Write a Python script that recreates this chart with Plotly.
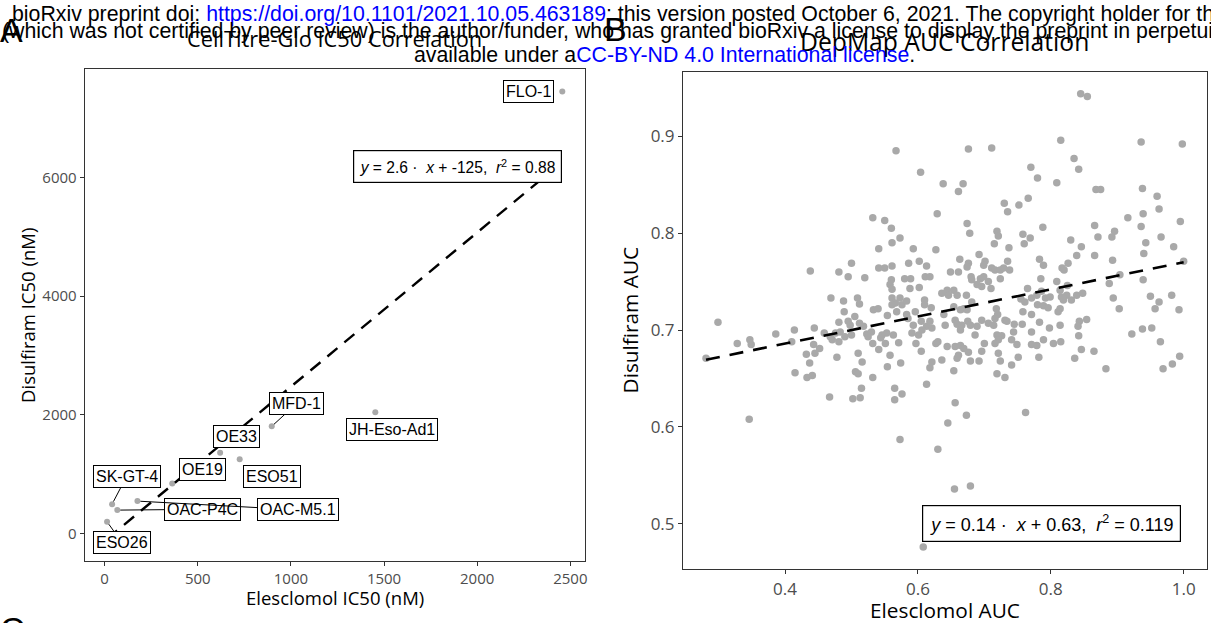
import plotly.graph_objects as go

W, H = 1211, 623

# ---------------- Panel A: CellTitre-Glo IC50 (nM) ----------------
cell_lines = ["FLO-1", "JH-Eso-Ad1", "MFD-1", "OE33", "ESO51", "OE19",
              "SK-GT-4", "OAC-P4C", "OAC-M5.1", "ESO26"]
elesclomol_ic50 = [2457, 1453, 897, 620, 725, 363, 40, 68, 176, 13]
disulfiram_ic50 = [7451, 2042, 1806, 1360, 1249, 844, 494, 393, 545, 196]
ic50_fit = {"slope": 2.6, "intercept": -125, "r2": 0.88}

# label placement in data units, and whether a leader segment is drawn
label_place = {
    "FLO-1": (2276, 7448, False),
    "JH-Eso-Ad1": (1545, 1757, False),
    "MFD-1": (1032, 2194, True),
    "OE33": (708, 1637, False),
    "ESO51": (896, 964, False),
    "OE19": (527, 1082, False),
    "SK-GT-4": (118, 962, True),
    "OAC-P4C": (527, 407, True),
    "OAC-M5.1": (1039, 398, True),
    "ESO26": (92, -147, True),
}

# ---------------- Panel B: DepMap AUC ----------------
elesclomol_auc = [
    0.567, 0.604, 0.638, 0.629, 0.532, 0.550, 0.560, 0.573, 0.561, 0.541, 0.593, 0.627,
    0.845, 0.855, 0.815, 0.936, 0.998, 0.676, 0.711, 0.835, 0.842, 0.770, 0.780, 0.809,
    0.668, 0.661, 0.868, 0.875, 0.938, 0.960, 0.963, 0.939, 0.995, 0.916, 0.730, 0.735,
    0.752, 0.766, 0.674, 0.678, 0.719, 0.721, 0.758, 0.769, 0.788, 0.866, 0.871, 0.896,
    0.892, 0.936, 0.966, 0.943, 0.985, 0.715, 0.760, 0.737, 0.830, 0.846,
    0.438, 0.481, 0.500, 0.495, 0.520, 0.541, 0.550, 0.561, 0.560, 0.558,
    0.561, 0.580, 0.589, 0.586, 0.602, 0.613, 0.611, 0.618, 0.588, 0.602,
    0.636, 0.469, 0.488, 0.509, 0.512, 0.489, 0.533, 0.540, 0.561, 0.573,
    0.566, 0.576, 0.561, 0.583, 0.610, 0.610, 0.620, 0.505, 0.495, 0.498,
    0.512, 0.481, 0.554, 0.568, 0.583, 0.596, 0.299, 0.444, 0.414, 0.386,
    0.328, 0.347, 0.349, 0.410, 0.459, 0.468, 0.476, 0.483, 0.471, 0.481,
    0.490, 0.500, 0.523, 0.530, 0.525, 0.518, 0.546, 0.553, 0.563, 0.544,
    0.585, 0.593, 0.605, 0.613, 0.621, 0.618, 0.591, 0.601, 0.606, 0.443,
    0.452, 0.432, 0.445, 0.478, 0.510, 0.532, 0.541, 0.551, 0.571, 0.597,
    0.605, 0.627, 0.630, 0.437, 0.516, 0.558, 0.574, 0.554, 0.621, 0.618,
    0.636, 0.415, 0.433, 0.441, 0.506, 0.510, 0.532, 0.613, 0.515, 0.565, 0.281,
    0.866, 0.893, 0.940, 1.000, 0.839, 0.826, 0.817, 0.820, 0.783, 0.789,
    0.735, 0.738, 0.711, 0.716, 0.724, 0.729, 0.701, 0.699, 0.692, 0.676,
    0.674, 0.680, 0.663, 0.649, 0.661, 0.681, 0.694, 0.699, 0.689, 0.696,
    0.706, 0.710, 0.724, 0.644, 0.654, 0.646, 0.659, 0.673, 0.654, 0.681,
    0.669, 0.664, 0.674, 0.718, 0.720, 0.696, 0.706, 0.731, 0.734, 0.716,
    0.714, 0.745, 0.757, 0.639, 0.641, 0.656, 0.659, 0.666, 0.664, 0.675,
    0.679, 0.689, 0.686, 0.744, 0.758, 0.771, 0.755, 0.761, 0.771, 0.779,
    0.786, 0.780, 0.789, 0.796, 0.792, 0.799, 0.785, 0.765, 0.809, 0.814,
    0.825, 0.816, 0.824, 0.819, 0.814, 0.811, 0.839, 0.848, 0.831, 0.783,
    0.798, 0.814, 0.771, 0.843, 0.841, 0.854, 0.842, 0.789, 0.771, 0.779,
    0.804, 0.815, 0.719, 0.726, 0.721, 0.716, 0.741, 0.749, 0.700, 0.644,
    0.656, 0.664, 0.669, 0.676, 0.679, 0.692, 0.661, 0.659, 0.696, 0.721,
    0.724, 0.751, 0.741, 0.782, 0.836, 0.846, 0.865, 0.883, 0.654, 0.719,
    0.731, 0.888, 0.904, 0.894, 0.903, 0.939, 0.950, 0.963, 0.957, 0.982,
    0.993, 0.922, 0.938, 0.952, 0.965, 0.994, 0.983, 0.969,
    0.346, 0.565, 0.576, 0.467, 0.502, 0.513, 0.656, 0.673, 0.645, 0.762,
    0.573, 0.630, 0.655, 0.679, 0.608,
]
disulfiram_auc = [
    0.885, 0.863, 0.851, 0.820, 0.816, 0.813, 0.805, 0.795, 0.790, 0.784, 0.784, 0.783,
    0.944, 0.941, 0.896, 0.894, 0.892, 0.887, 0.888, 0.877, 0.866, 0.868, 0.857, 0.852,
    0.851, 0.843, 0.845, 0.845, 0.846, 0.838, 0.825, 0.820, 0.812, 0.816, 0.831, 0.822,
    0.829, 0.836, 0.810, 0.800, 0.802, 0.797, 0.799, 0.795, 0.806, 0.808, 0.796, 0.802,
    0.796, 0.807, 0.796, 0.790, 0.786, 0.789, 0.789, 0.785, 0.793, 0.786,
    0.761, 0.760, 0.769, 0.755, 0.754, 0.764, 0.764, 0.766, 0.752, 0.747,
    0.742, 0.753, 0.753, 0.769, 0.771, 0.766, 0.755, 0.755, 0.743, 0.744,
    0.738, 0.733, 0.730, 0.733, 0.727, 0.719, 0.721, 0.722, 0.733, 0.733,
    0.728, 0.726, 0.726, 0.730, 0.731, 0.726, 0.723, 0.714, 0.709, 0.705,
    0.707, 0.708, 0.715, 0.719, 0.716, 0.719, 0.708, 0.702, 0.700, 0.696,
    0.686, 0.690, 0.685, 0.688, 0.697, 0.693, 0.697, 0.698, 0.690, 0.688,
    0.693, 0.695, 0.696, 0.698, 0.693, 0.704, 0.695, 0.697, 0.695, 0.692,
    0.712, 0.705, 0.709, 0.704, 0.702, 0.709, 0.697, 0.695, 0.700, 0.685,
    0.681, 0.675, 0.676, 0.672, 0.676, 0.686, 0.680, 0.686, 0.687, 0.686,
    0.678, 0.686, 0.688, 0.666, 0.667, 0.674, 0.666, 0.662, 0.667, 0.661,
    0.669, 0.656, 0.651, 0.653, 0.657, 0.655, 0.651, 0.644, 0.640, 0.640, 0.671,
    0.777, 0.772, 0.779, 0.771, 0.777, 0.769, 0.764, 0.762, 0.773, 0.767,
    0.771, 0.762, 0.764, 0.762, 0.762, 0.764, 0.771, 0.767, 0.778, 0.769,
    0.765, 0.755, 0.773, 0.760, 0.760, 0.752, 0.753, 0.755, 0.747, 0.745,
    0.750, 0.743, 0.753, 0.741, 0.741, 0.736, 0.736, 0.736, 0.724, 0.729,
    0.722, 0.721, 0.721, 0.722, 0.716, 0.710, 0.707, 0.710, 0.709, 0.712,
    0.705, 0.706, 0.706, 0.716, 0.705, 0.710, 0.706, 0.705, 0.700, 0.709,
    0.705, 0.704, 0.695, 0.698, 0.719, 0.716, 0.732, 0.729, 0.733, 0.736,
    0.740, 0.726, 0.725, 0.723, 0.733, 0.734, 0.753, 0.743, 0.750, 0.741,
    0.746, 0.734, 0.736, 0.731, 0.722, 0.719, 0.736, 0.738, 0.731, 0.708,
    0.702, 0.705, 0.698, 0.709, 0.704, 0.711, 0.694, 0.690, 0.685, 0.684,
    0.686, 0.688, 0.695, 0.694, 0.690, 0.686, 0.690, 0.685, 0.686, 0.683,
    0.683, 0.684, 0.681, 0.677, 0.668, 0.668, 0.674, 0.671, 0.678, 0.676,
    0.668, 0.672, 0.664, 0.672, 0.671, 0.680, 0.678, 0.660, 0.658, 0.655,
    0.651, 0.748, 0.757, 0.733, 0.722, 0.752, 0.735, 0.729, 0.722, 0.736,
    0.721, 0.696, 0.701, 0.702, 0.688, 0.673, 0.665, 0.660,
    0.608, 0.628, 0.634, 0.631, 0.629, 0.630, 0.625, 0.612, 0.604, 0.615,
    0.587, 0.577, 0.536, 0.539, 0.476,
]
auc_fit = {"slope": 0.14, "intercept": 0.63, "r2": 0.119}

POINT = "#A9A9A9"
FRAME = "#333333"
TICK_TXT = "#4D4D4D"
AX_FONT = "Open Sans"
LBL_FONT = "Liberation Sans"


def px(x):
    return x / W


def py(y):
    return 1 - y / H


fig = go.Figure()

# points, then the fitted line on top
fig.add_trace(go.Scatter(x=elesclomol_ic50, y=disulfiram_ic50, mode="markers",
                         marker=dict(color=POINT, size=6), xaxis="x", yaxis="y",
                         hoverinfo="skip"))
xa = [min(elesclomol_ic50), max(elesclomol_ic50)]
fig.add_trace(go.Scatter(x=xa, y=[ic50_fit["slope"] * v + ic50_fit["intercept"] for v in xa],
                         mode="lines", line=dict(color="black", width=2.4, dash="13px,9px"),
                         xaxis="x", yaxis="y", hoverinfo="skip"))

fig.add_trace(go.Scatter(x=elesclomol_auc, y=disulfiram_auc, mode="markers",
                         marker=dict(color=POINT, size=7.5), xaxis="x2", yaxis="y2",
                         hoverinfo="skip"))
xb = [min(elesclomol_auc), max(elesclomol_auc)]
fig.add_trace(go.Scatter(x=xb, y=[auc_fit["slope"] * v + auc_fit["intercept"] for v in xb],
                         mode="lines", line=dict(color="black", width=2.6, dash="14px,10px"),
                         xaxis="x2", yaxis="y2", hoverinfo="skip"))

annotations = []

# cell line labels
for name, xv, yv in zip(cell_lines, elesclomol_ic50, disulfiram_ic50):
    lx, ly, seg = label_place[name]
    common = dict(text=name, font=dict(family=LBL_FONT, size=16, color="black"),
                  bgcolor="white", bordercolor="black", borderwidth=1, borderpad=2)
    if seg:
        annotations.append(dict(xref="x", yref="y", x=xv, y=yv, axref="x", ayref="y",
                                ax=lx, ay=ly, showarrow=True, arrowhead=0, arrowwidth=1,
                                arrowcolor="black", standoff=3, **common))
    else:
        annotations.append(dict(xref="x", yref="y", x=lx, y=ly, showarrow=False, **common))

# regression equations
annotations.append(dict(
    xref="x", yref="y", x=max(elesclomol_ic50), y=6194, xanchor="right", yanchor="middle",
    text=(f"<i>y</i> = {ic50_fit['slope']} ·  <i>x</i> + {ic50_fit['intercept']},  "
          f"<i>r</i><sup>2</sup> = {ic50_fit['r2']}"),
    font=dict(family=LBL_FONT, size=15.6, color="black"), showarrow=False,
    bgcolor="white", bordercolor="black", borderwidth=1.2, borderpad=5.5))
annotations.append(dict(
    xref="x2", yref="y2", x=0.996, y=0.5004, xanchor="right", yanchor="middle",
    text=(f"<i>y</i> = {auc_fit['slope']} ·  <i>x</i> + {auc_fit['intercept']},  "
          f"<i>r</i><sup>2</sup> = {auc_fit['r2']}"),
    font=dict(family=LBL_FONT, size=18, color="black"), showarrow=False,
    bgcolor="white", bordercolor="black", borderwidth=1.2, borderpad=6))


# panel titles and axis titles
def text_at(x, y, t, size, family=AX_FONT, color="black", xanchor="center", angle=0,
            yanchor="middle"):
    annotations.append(dict(xref="paper", yref="paper", x=px(x), y=py(y), text=t,
                            showarrow=False, xanchor=xanchor, yanchor=yanchor,
                            textangle=angle, font=dict(family=family, size=size, color=color)))


text_at(335.6, 39, "CellTitre-Glo IC50 Correlation", 21.8)
text_at(947, 42, "DepMap AUC Correlation", 24.7)
text_at(335.6, 597, "Elesclomol IC50 (nM)", 18.5)
text_at(27, 315, "Disulfiram IC50 (nM)", 18.5, angle=-90)
text_at(947, 610, "Elesclomol AUC", 20.8)
text_at(632, 320, "Disulfiram AUC", 20.8, angle=-90)

# preprint header
BLUE = "#0000FF"
HDR = 21.3
text_at(10, 14, "bioRxiv preprint doi: "
        f"<span style='color:{BLUE}'>https://doi.org/10.1101/2021.10.05.463189</span>"
        "; this version posted October 6, 2021. The copyright holder for this preprint",
        HDR, family=LBL_FONT, xanchor="left")
text_at(0, 31, "(which was not certified by peer review) is the author/funder, who has granted "
        "bioRxiv a license to display the preprint in perpetuity. It is made",
        HDR, family=LBL_FONT, xanchor="left")
text_at(413, 55, "available under a"
        f"<span style='color:{BLUE}'>CC-BY-ND 4.0 International license</span>.",
        HDR, family=LBL_FONT, xanchor="left")

# panel letters
text_at(-2, 30, "A", 34, family=LBL_FONT, xanchor="left")
text_at(603, 29, "B", 34, family=LBL_FONT, xanchor="left")
text_at(-2, 608, "C", 34, family=LBL_FONT, xanchor="left", yanchor="top")

axis_common = dict(showgrid=False, zeroline=False, showline=True, mirror=True,
                   linecolor=FRAME, linewidth=1.3, ticks="outside", ticklen=4,
                   tickcolor=FRAME, tickwidth=1.1)

fig.update_layout(
    width=W, height=H, margin=dict(l=0, r=0, t=0, b=0),
    paper_bgcolor="white", plot_bgcolor="white", showlegend=False,
    xaxis=dict(domain=[px(85), px(586.3)], range=[-106.6, 2578],
               tickvals=[0, 500, 1000, 1500, 2000, 2500], anchor="y",
               tickfont=dict(family=AX_FONT, size=15, color=TICK_TXT), **axis_common),
    yaxis=dict(domain=[py(560.7), py(69.3)], range=[-460, 7827],
               tickvals=[0, 2000, 4000, 6000], anchor="x",
               tickfont=dict(family=AX_FONT, size=15, color=TICK_TXT), **axis_common),
    xaxis2=dict(domain=[px(684.8), px(1209.9)], range=[0.2465, 1.035],
                tickvals=[0.4, 0.6, 0.8, 1.0], ticktext=["0.4", "0.6", "0.8", "1.0"],
                anchor="y2", tickfont=dict(family=AX_FONT, size=17, color=TICK_TXT),
                **axis_common),
    yaxis2=dict(domain=[py(569.3), py(71.7)], range=[0.453, 0.9667],
                tickvals=[0.5, 0.6, 0.7, 0.8, 0.9], anchor="x2",
                tickfont=dict(family=AX_FONT, size=17, color=TICK_TXT), **axis_common),
    annotations=annotations,
)

fig.write_html("out.html")
